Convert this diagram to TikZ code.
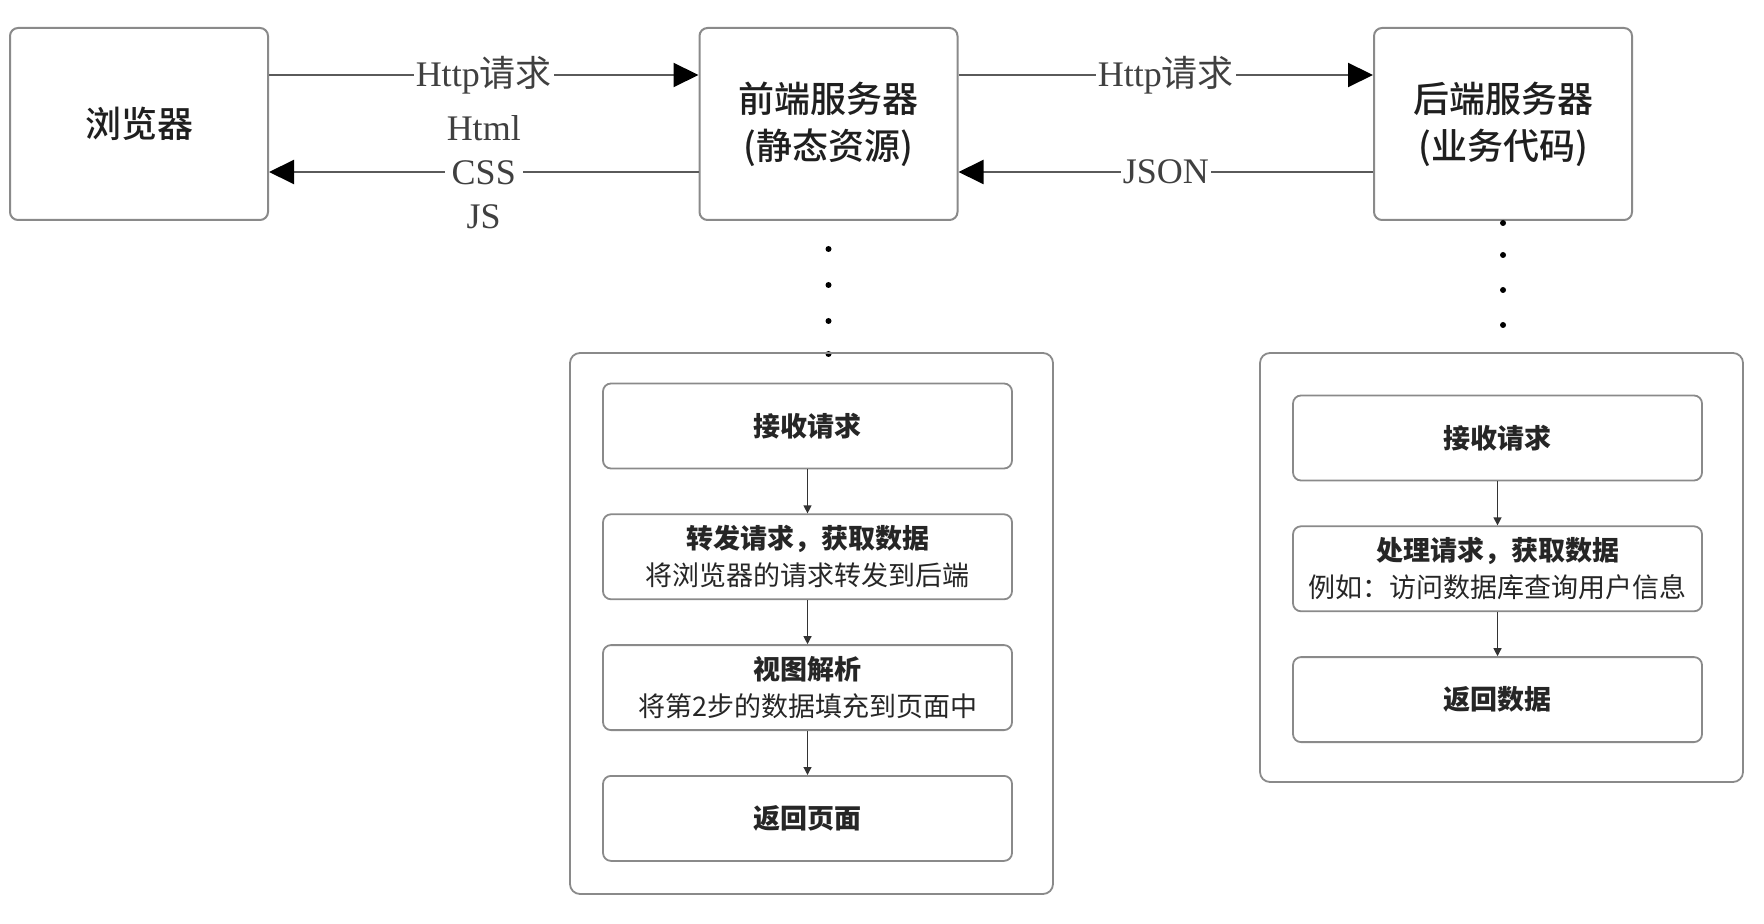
\documentclass[tikz,border=0pt]{standalone}
\usepackage{fontspec}
\setmainfont{Noto Sans CJK SC}
\newfontfamily\cjkmedium{Noto Sans CJK SC Medium}
\newfontfamily\latinserif{Liberation Serif}
\usetikzlibrary{positioning,arrows.meta}
\definecolor{boxgray}{HTML}{8A8A8A}
\definecolor{linegray}{HTML}{5A5A5A}
\newcommand{\lbl}[2]{{\latinserif #1}#2}

\begin{document}
\begin{tikzpicture}[
		x=1pt, y=1pt,
		server/.style={draw=boxgray, line width=1pt, rounded corners=4pt, minimum width=129pt, minimum height=96pt, align=center, font=\fontsize{18}{23.5}\selectfont\cjkmedium, text=black!88},
		frame/.style={draw=boxgray, line width=0.9pt, rounded corners=5pt, minimum width=241.5pt},
		stepbox/.style={draw=boxgray, line width=0.9pt, rounded corners=4pt, minimum width=204.5pt, minimum height=42.5pt, align=center, font=\fontsize{13.5}{18.5}\selectfont, text=black!85},
		req/.style={draw=linegray, line width=1pt, -{Triangle[length=12.5pt,width=12pt,color=black]}},
		flow/.style={draw=black!80, line width=0.6pt, -{Triangle[length=4pt,width=4pt]}},
		tag/.style={fill=white, inner sep=1pt, font=\fontsize{18}{22}\selectfont, text=black!75, align=center},
		node distance=22pt
	]
	\useasboundingbox (0,0) rectangle (882,-462);
	\node[server] (browser) at (69.5,-62) {浏览器};
	\node[server] (front) at (414.25,-62) {前端服务器\\(静态资源)};
	\node[server] (back) at (751.5,-62) {后端服务器\\(业务代码)};

	\draw[req] ([yshift=24.5pt]browser.east) -- node[tag] {\lbl{Http}{请求}} ([yshift=24.5pt]front.west);
	\draw[req] ([yshift=-24pt]front.west) -- node[tag, font=\latinserif\fontsize{18}{22}\selectfont] {Html\\CSS\\JS} ([yshift=-24pt]browser.east);
	\draw[req] ([yshift=24.5pt]front.east) -- node[tag] {\lbl{Http}{请求}} ([yshift=24.5pt]back.west);
	\draw[req] ([yshift=-24pt]back.west) -- node[tag, font=\latinserif\fontsize{18}{22}\selectfont] {JSON} ([yshift=-24pt]front.east);

	\foreach \d in {14,32,50,66.5}
		\fill[black] ([yshift=-\d pt]front.south) circle (1.5pt);
	\foreach \d in {1,17,34.5,52}
		\fill[black] ([yshift=-\d pt]back.south) circle (1.5pt);

	\node[frame, minimum height=270.5pt] (fframe) at (405.75,-311.75) {};
	\node[stepbox] (fstep1) at (403.75,-213) {\bfseries 接收请求};
	\node[stepbox, below=of fstep1] (fstep2) {{\bfseries 转发请求，获取数据}\\将浏览器的请求转发到后端};
	\node[stepbox, below=of fstep2] (fstep3) {{\bfseries 视图解析}\\将第2步的数据填充到页面中};
	\node[stepbox, below=of fstep3] (fstep4) {\bfseries 返回页面};
	\draw[flow] (fstep1) -- (fstep2);
	\draw[flow] (fstep2) -- (fstep3);
	\draw[flow] (fstep3) -- (fstep4);

	\node[frame, minimum height=214.5pt] (bframe) at (750.75,-283.75) {};
	\node[stepbox] (bstep1) at (748.75,-219) {\bfseries 接收请求};
	\node[stepbox, below=of bstep1] (bstep2) {{\bfseries 处理请求，获取数据}\\例如：访问数据库查询用户信息};
	\node[stepbox, below=of bstep2] (bstep3) {\bfseries 返回数据};
	\draw[flow] (bstep1) -- (bstep2);
	\draw[flow] (bstep2) -- (bstep3);
\end{tikzpicture}
\end{document}
